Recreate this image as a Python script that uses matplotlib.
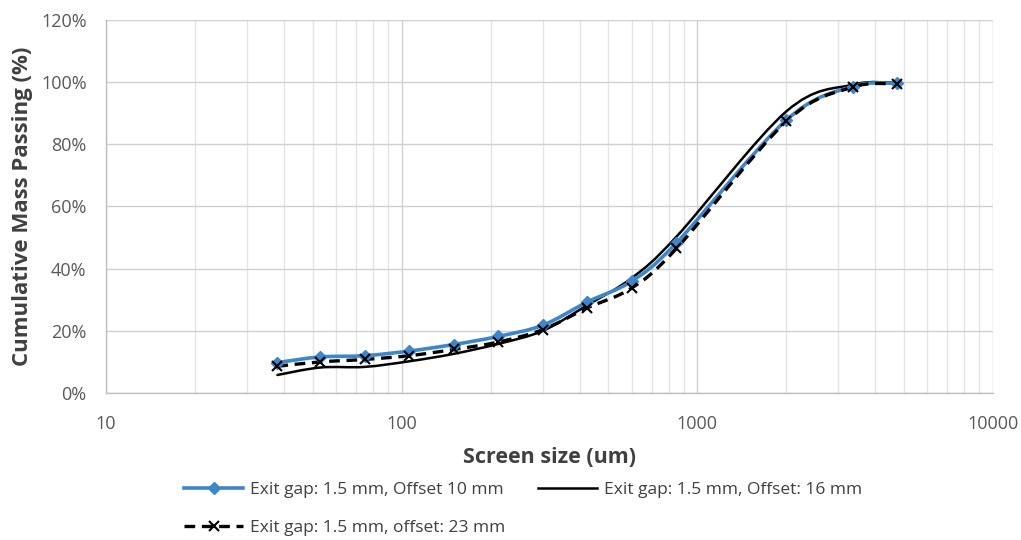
import numpy as np
import matplotlib
matplotlib.use("Agg")
import matplotlib.pyplot as plt
from matplotlib.path import Path
from matplotlib.patches import PathPatch
from matplotlib.lines import Line2D
from matplotlib.ticker import PercentFormatter, LogLocator, FixedLocator, NullFormatter

plt.rcParams['font.family'] = ['Open Sans', 'DejaVu Sans']

screen_size = [38, 53, 75, 106, 150, 212, 300, 425, 600, 850, 2000, 3350, 4750]
offset_10 = [9.8, 11.6, 12.0, 13.5, 15.6, 18.2, 21.8, 29.3, 36.0, 48.3, 87.8, 98.6, 99.6]
offset_16 = [5.8, 8.2, 8.4, 10.2, 12.6, 15.8, 20.0, 28.3, 37.0, 50.3, 90.6, 99.2, 99.8]
offset_23 = [8.6, 10.0, 10.8, 12.0, 14.0, 16.4, 20.4, 27.4, 33.8, 46.5, 87.4, 98.4, 99.4]
labels = ["Exit gap: 1.5 mm, Offset 10 mm",
          "Exit gap: 1.5 mm, Offset: 16 mm",
          "Exit gap: 1.5 mm, offset: 23 mm"]
x_ticks = [10, 100, 1000, 10000]

BLUE = '#3c86cc'


def smooth_path(xs, ys):
    """Bezier path (Excel-like smoothing) through the data points, built in log-x space."""
    lx = np.log10(np.asarray(xs, float))
    yy = np.asarray(ys, float)
    n = len(lx)
    verts = [(xs[0], ys[0])]
    codes = [Path.MOVETO]
    for i in range(n - 1):
        i0 = max(i - 1, 0)
        i3 = min(i + 2, n - 1)
        c1x = lx[i] + (lx[i + 1] - lx[i0]) / 6.0
        c1y = yy[i] + (yy[i + 1] - yy[i0]) / 6.0
        c2x = lx[i + 1] - (lx[i3] - lx[i]) / 6.0
        c2y = yy[i + 1] - (yy[i3] - yy[i]) / 6.0
        verts += [(10 ** c1x, c1y), (10 ** c2x, c2y), (xs[i + 1], ys[i + 1])]
        codes += [Path.CURVE4] * 3
    return Path(verts, codes)


fig = plt.figure(figsize=(10.21, 5.40), dpi=100)
ax = fig.add_axes([0.1038, 0.2722, 0.8688, 0.6908])
ax.set_xscale('log')
ax.set_xlim(10, 10000)
ax.set_ylim(0, 120)

ax.add_patch(PathPatch(smooth_path(screen_size, offset_16), fill=False,
                       edgecolor='black', lw=1.8, zorder=3, capstyle='round'))
ax.add_patch(PathPatch(smooth_path(screen_size, offset_10), fill=False,
                       edgecolor=BLUE, lw=2.6, zorder=4, capstyle='round'))
ax.add_patch(PathPatch(smooth_path(screen_size, offset_23), fill=False,
                       edgecolor='black', lw=2.4, zorder=5, linestyle=(0, (3.2, 2.0))))
ax.plot(screen_size, offset_10, linestyle='none', marker='D', ms=6.5,
        color=BLUE, zorder=6)
ax.plot(screen_size, offset_23, linestyle='none', marker='x', ms=7,
        mew=1.5, color='black', zorder=7)

ax.yaxis.set_major_locator(FixedLocator([0, 20, 40, 60, 80, 100, 120]))
ax.yaxis.set_major_formatter(PercentFormatter(100, decimals=0))
ax.xaxis.set_major_locator(FixedLocator(x_ticks))
ax.set_xticklabels([str(t) for t in x_ticks])
ax.xaxis.set_minor_locator(LogLocator(base=10, subs=np.arange(2, 10)))
ax.xaxis.set_minor_formatter(NullFormatter())

ax.grid(True, which='major', axis='both', color='#d0d0d0', lw=1.0, zorder=0)
ax.grid(True, which='minor', axis='x', color='#e4e4e4', lw=1.0, zorder=0)
ax.set_axisbelow(True)

for s in ['top', 'right']:
    ax.spines[s].set_visible(False)
for s in ['left', 'bottom']:
    ax.spines[s].set_color('#bfbfbf')
    ax.spines[s].set_linewidth(1.0)

ax.tick_params(axis='both', which='both', length=0, labelsize=13,
               labelcolor='#595959')
ax.tick_params(axis='x', pad=16)
ax.tick_params(axis='y', pad=14)

ax.set_xlabel('Screen size (um)', fontsize=15.5, fontweight='bold',
              color='#404040', labelpad=10)
ax.set_ylabel('Cumulative Mass Passing (%)', fontsize=16, fontweight='bold',
              color='#404040', labelpad=6)

h1 = Line2D([], [], color=BLUE, lw=2.6, marker='D', ms=6.5)
h2 = Line2D([], [], color='black', lw=1.8)
h3 = Line2D([], [], color='black', lw=2.4, linestyle=(0, (3.2, 2.0)),
            marker='x', ms=7, mew=1.5)
fig.legend([h1, h3, h2], [labels[0], labels[2], labels[1]], ncol=2,
           loc='lower center', bbox_to_anchor=(0.5125, -0.016), frameon=False,
           fontsize=12.5, handlelength=3.4, columnspacing=1.9, labelspacing=1.3,
           handletextpad=0.4, borderpad=0.2, labelcolor='#404040')

fig.savefig('out.png', dpi=100)
